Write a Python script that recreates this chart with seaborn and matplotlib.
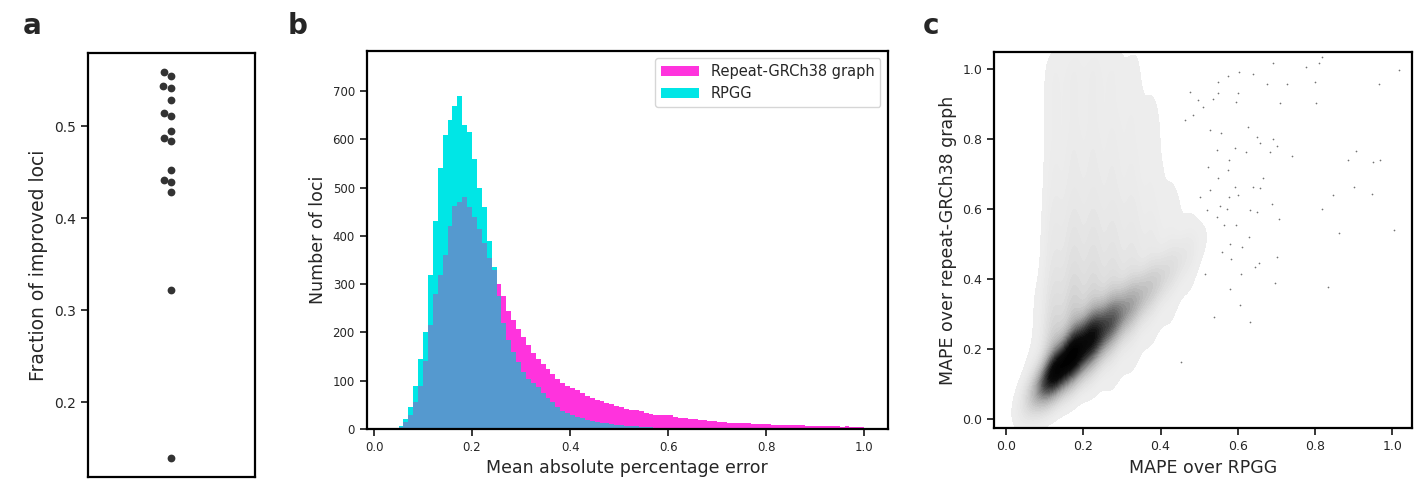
import numpy as np
import matplotlib
matplotlib.use("Agg")
import matplotlib.pyplot as plt
from matplotlib.colors import LinearSegmentedColormap
import seaborn as sns

# ---------------- data ----------------
# Panel a: fraction of improved loci per sample
frac_improved = [0.559, 0.5545, 0.544, 0.542, 0.529, 0.5145, 0.5116, 0.4945,
                 0.487, 0.4837, 0.4528, 0.4415, 0.439, 0.4288, 0.322, 0.1393]

# Panel b: histogram counts (per 0.01 bin, 0.00 .. 1.00)
bin_edges = [round(i * 0.01, 2) for i in range(101)]
rpgg_counts = [0, 0, 0, 0, 1, 6, 20, 45, 90, 145,
               200, 320, 430, 540, 610, 640, 670, 690, 630, 615,
               560, 500, 460, 390, 335, 275, 220, 185, 160, 138,
               118, 104, 95, 86, 75, 65, 55, 45, 38, 33,
               29, 25, 22, 19, 17, 15, 13, 12, 10, 9,
               8, 7, 6, 6, 5, 4, 4, 3, 3, 3,
               3, 2, 2, 2, 2, 2, 2, 1, 1, 1,
               1, 1, 1, 1, 1, 1, 1, 1, 1, 1,
               1, 1, 1, 1, 1, 1, 1, 1, 1, 0,
               0, 0, 0, 0, 0, 0, 0, 0, 0, 0]
grch38_counts = [0, 0, 0, 0, 0, 5, 15, 30, 55, 90,
                 140, 215, 280, 320, 360, 420, 462, 470, 480, 460,
                 440, 415, 385, 355, 330, 300, 275, 245, 225, 207,
                 190, 173, 158, 146, 135, 124, 114, 104, 96, 89,
                 84, 80, 74, 69, 65, 61, 57, 54, 51, 48,
                 45, 42, 40, 39, 37, 34, 32, 30, 29, 29,
                 28, 25, 22, 22, 21, 20, 19, 18, 17, 16,
                 15, 14, 13, 13, 13, 12, 12, 11, 10, 10,
                 10, 9, 9, 8, 8, 8, 8, 8, 7, 7,
                 7, 7, 7, 6, 6, 5, 6, 5, 5, 5]

# Panel c: density grid of the cloud (relative point density per 0.05 cell)
grid_x = [0.025, 0.075, 0.125, 0.175, 0.225, 0.275, 0.325, 0.375, 0.425, 0.475, 0.525, 0.575]
grid_y = [0.025, 0.075, 0.125, 0.175, 0.225, 0.275, 0.325, 0.375, 0.425, 0.475, 0.525,
          0.575, 0.625, 0.675, 0.725, 0.775, 0.825, 0.875, 0.925, 0.975, 1.025]
density = [
    [0, 0, 0, 0, 0, 0, 0, 0, 0, 0, 0, 0],
    [0, 2, 3, 2, 1, 1, 0, 0, 0, 0, 0, 0],
    [0, 3, 30, 12, 5, 2, 1, 0, 0, 0, 0, 0],
    [0, 2, 40, 40, 14, 5, 2, 1, 0, 0, 0, 0],
    [0, 1, 30, 50, 40, 12, 4, 1, 1, 0, 0, 0],
    [0, 1, 22, 38, 38, 28, 8, 3, 1, 0, 0, 0],
    [0, 1, 17, 28, 28, 24, 14, 5, 2, 1, 0, 0],
    [0, 1, 13, 21, 21, 18, 13, 8, 3, 1, 0, 0],
    [0, 0, 10, 16, 16, 14, 11, 7, 4, 2, 0, 0],
    [0, 0, 8, 13, 13, 11, 9, 6, 4, 3, 1, 0],
    [0, 0, 7, 11, 11, 9, 7, 5, 3, 2, 1, 0],
    [0, 0, 6, 9, 9, 8, 6, 4, 2, 1, 1, 0],
    [0, 0, 5, 7, 7, 6, 5, 3, 2, 1, 0, 0],
    [0, 0, 4, 6, 6, 5, 4, 3, 1, 1, 0, 0],
    [0, 0, 4, 5, 5, 5, 4, 2, 1, 0, 0, 0],
    [0, 0, 3, 5, 5, 4, 3, 2, 1, 0, 0, 0],
    [0, 0, 3, 4, 4, 4, 3, 2, 1, 0, 0, 0],
    [0, 0, 3, 4, 4, 3, 3, 2, 1, 0, 0, 0],
    [0, 0, 3, 4, 4, 3, 2, 1, 0, 0, 0, 0],
    [0, 0, 3, 4, 4, 3, 2, 1, 0, 0, 0, 0],
    [0, 0, 3, 4, 4, 3, 2, 1, 0, 0, 0, 0],
]
# Panel c: dense diagonal ridge (x, lower edge y, upper edge y, relative weight)
ridge_x = [0.04, 0.06, 0.08, 0.10, 0.12, 0.14, 0.16, 0.18, 0.20, 0.22, 0.24, 0.26,
           0.28, 0.30, 0.32, 0.34, 0.36, 0.38, 0.40, 0.42, 0.44, 0.46, 0.48]
ridge_lo = [0.035, 0.050, 0.068, 0.080, 0.098, 0.115, 0.132, 0.150, 0.170, 0.190, 0.210, 0.232,
            0.255, 0.275, 0.297, 0.318, 0.340, 0.362, 0.385, 0.405, 0.428, 0.450, 0.472]
ridge_hi = [0.048, 0.070, 0.095, 0.120, 0.145, 0.170, 0.195, 0.220, 0.245, 0.262, 0.280, 0.296,
            0.312, 0.328, 0.345, 0.362, 0.380, 0.398, 0.417, 0.436, 0.455, 0.474, 0.494]
ridge_w = [1, 5, 16, 33, 45, 50, 50, 50, 48, 44, 38, 32,
           26, 21, 17, 13, 10, 8, 6, 4, 3, 2, 1]
# Panel c: individually readable sparse points
sparse_x = [1.016, 0.965, 0.819, 0.810, 0.776, 0.800, 0.727, 0.675, 0.690, 0.801,
            0.708, 0.905, 0.885, 0.949, 0.968, 0.900, 0.947, 0.846, 0.818, 0.862,
            1.005, 0.834, 0.739, 0.702, 0.692, 0.683, 0.657, 0.638, 0.604, 0.575,
            0.601, 0.595, 0.689, 0.706, 0.697, 0.701, 0.654, 0.645, 0.632, 0.606,
            0.583, 0.580, 0.538, 0.452, 0.515, 0.607, 0.658, 0.649, 0.630, 0.580,
            0.564, 0.554, 0.626, 0.649, 0.666, 0.638, 0.601, 0.577, 0.593, 0.620,
            0.593, 0.574, 0.557, 0.550, 0.537, 0.511, 0.498, 0.476, 0.485, 0.463,
            0.528, 0.550, 0.576, 0.545, 0.524, 0.550, 0.528, 0.502, 0.571, 0.545,
            0.519, 0.610, 0.595, 0.558, 0.632]
sparse_y = [0.996, 0.958, 1.034, 1.017, 1.006, 0.963, 0.956, 0.958, 1.017, 0.903,
            0.903, 0.766, 0.741, 0.735, 0.739, 0.663, 0.642, 0.639, 0.599, 0.532,
            0.540, 0.376, 0.751, 0.779, 0.801, 0.763, 0.789, 0.984, 0.990, 0.979,
            0.930, 0.904, 0.614, 0.570, 0.389, 0.463, 0.444, 0.433, 0.276, 0.324,
            0.457, 0.370, 0.292, 0.161, 0.414, 0.415, 0.661, 0.592, 0.520, 0.499,
            0.554, 0.608, 0.833, 0.806, 0.687, 0.663, 0.640, 0.635, 0.663, 0.763,
            0.773, 0.711, 0.816, 0.932, 0.915, 0.892, 0.911, 0.934, 0.868, 0.855,
            0.825, 0.963, 0.739, 0.768, 0.720, 0.687, 0.654, 0.635, 0.601, 0.578,
            0.597, 0.492, 0.554, 0.478, 0.597]

# ---------------- style ----------------
sns.set_style("ticks")
plt.rcParams["font.family"] = ["DejaVu Sans"]
plt.rcParams["axes.linewidth"] = 1.6
plt.rcParams["xtick.major.width"] = 1.3
plt.rcParams["ytick.major.width"] = 1.3
plt.rcParams["xtick.major.size"] = 5
plt.rcParams["ytick.major.size"] = 5

fig = plt.figure(figsize=(14.19, 4.91), dpi=100)
axa = fig.add_axes([0.0618, 0.0279, 0.1179, 0.8648])
axb = fig.add_axes([0.2584, 0.1263, 0.3672, 0.7698])
axc = fig.add_axes([0.7007, 0.1277, 0.2942, 0.7670])

for ax in (axa, axb, axc):
    for s in ax.spines.values():
        s.set_visible(True)
        s.set_color("black")

# ---------------- panel a ----------------
sns.swarmplot(y=frac_improved, ax=axa, color="#333333", size=5.6)
axa.set_ylabel("Fraction of improved loci", fontsize=13.5)
axa.set_yticks([0.2, 0.3, 0.4, 0.5])
axa.tick_params(axis="y", labelsize=10)
axa.set_xticks([])

# ---------------- panel b ----------------
centers = [(bin_edges[i] + bin_edges[i + 1]) / 2 for i in range(100)]
overlap = np.minimum(np.array(rpgg_counts), np.array(grch38_counts))
common = dict(bins=bin_edges, element="step", fill=True, alpha=1, linewidth=0, ax=axb)
sns.histplot(x=centers, weights=grch38_counts, color="#ff33dd", label="Repeat-GRCh38 graph", **common)
sns.histplot(x=centers, weights=rpgg_counts, color="#00e6e6", label="RPGG", **common)
sns.histplot(x=centers, weights=overlap, color="#5599cf", **common)
axb.set_xlim(-0.015, 1.048)
axb.set_ylim(0, 783)
axb.set_xticks([0.0, 0.2, 0.4, 0.6, 0.8, 1.0])
axb.set_yticks([0, 100, 200, 300, 400, 500, 600, 700])
axb.tick_params(labelsize=8.5)
axb.set_xlabel("Mean absolute percentage error", fontsize=12.5)
axb.set_ylabel("Number of loci", fontsize=12.5)
axb.legend(loc="upper right", fontsize=10.5, frameon=True, fancybox=True,
           edgecolor="#cccccc", handlelength=2.6)

# ---------------- panel c ----------------
cx, cy, cw = [], [], []
for r, yv in enumerate(grid_y):
    for c, xv in enumerate(grid_x):
        if density[r][c] > 0:
            cx.append(xv); cy.append(yv); cw.append(density[r][c])
for xv, lo, hi, wv in zip(ridge_x, ridge_lo, ridge_hi, ridge_w):
    for yv in (lo, (lo + hi) / 2, hi):
        cx.append(xv); cy.append(yv); cw.append(wv)
cloud_cmap = LinearSegmentedColormap.from_list(
    "cloud", ["#eeeeee", "#cdcdcd", "#a8a8a8", "#727272", "#3a3a3a", "#0c0c0c", "#000000"])
sns.kdeplot(x=cx, y=cy, weights=cw, ax=axc, fill=True, cmap=cloud_cmap, levels=40,
            thresh=0.012, bw_method=0.23, gridsize=350, cut=1)

sns.scatterplot(x=sparse_x, y=sparse_y, ax=axc, color="black", s=1.5, linewidth=0, alpha=0.55)
axc.set_xlim(-0.03, 1.05)
axc.set_ylim(-0.027, 1.049)
axc.set_xticks([0.0, 0.2, 0.4, 0.6, 0.8, 1.0])
axc.set_yticks([0.0, 0.2, 0.4, 0.6, 0.8, 1.0])
axc.tick_params(labelsize=9)
axc.set_xlabel("MAPE over RPGG", fontsize=12.5)
axc.set_ylabel("MAPE over repeat-GRCh38 graph", fontsize=12.5)

# ---------------- panel letters ----------------
fig.text(0.016, 0.93, "a", fontsize=20, fontweight="bold")
fig.text(0.203, 0.93, "b", fontsize=20, fontweight="bold")
fig.text(0.650, 0.93, "c", fontsize=20, fontweight="bold")

fig.savefig("out.png", dpi=100)
